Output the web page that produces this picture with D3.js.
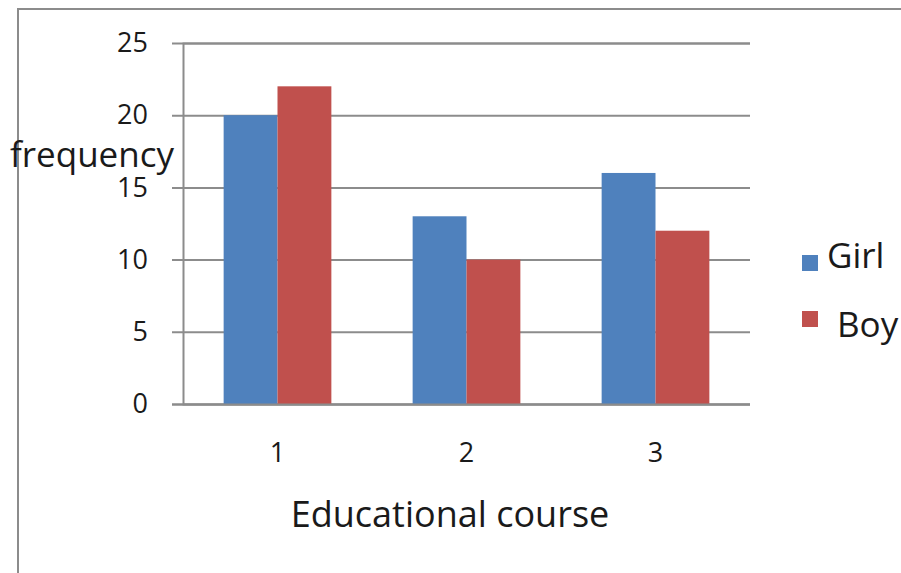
<!DOCTYPE html>
<html>
<head>
<meta charset="utf-8">
<script src="https://cdn.jsdelivr.net/npm/d3@7"></script>
<style>
  body { margin: 0; background: #fff; }
  svg { display: block; }
  svg text { font-family: "Open Sans", Lato, sans-serif; }
</style>
</head>
<body>
<div class="container"></div>
<script>
// Data
const categories = ['1', '2', '3'];
const seriesNames = ['Girl', 'Boy'];
const girlValues = [20, 13, 16];
const boyValues = [22, 10, 12];
const yTicks = [0, 5, 10, 15, 20, 25];
const colors = ['#4f81bd', '#c0504d'];

const width = 901;
const height = 573;
const margin = { left: 183, right: 151, top: 43, bottom: 169 };
const textColor = '#1a1a1a';

const svg = d3
  .select('.container')
  .append('svg')
  .attr('width', width)
  .attr('height', height);

// outer frame
svg
  .append('rect')
  .attr('x', 18)
  .attr('y', 9)
  .attr('width', width + 20)
  .attr('height', height + 20)
  .attr('fill', 'none')
  .attr('stroke', '#8c8c8c')
  .attr('stroke-width', 2);

const x = d3
  .scaleBand()
  .domain(categories)
  .range([margin.left, width - margin.right])
  .paddingInner(0.43)
  .paddingOuter(0.215);

const xInner = d3
  .scaleBand()
  .domain(seriesNames)
  .range([0, x.bandwidth()]);

const y = d3
  .scaleLinear()
  .domain([0, 25])
  .range([height - margin.bottom, margin.top]);

// gridlines + y axis
const yAxis = d3
  .axisLeft(y)
  .tickValues(yTicks)
  .tickSize(-(width - margin.right - margin.left))
  .tickPadding(35)
  .tickFormat(d3.format('d'));

const gy = svg
  .append('g')
  .attr('transform', `translate(${margin.left},0)`)
  .call(yAxis);
gy.select('.domain').attr('stroke', '#8c8c8c').attr('stroke-width', 2);
gy.selectAll('.tick line')
  .attr('x1', -11)
  .attr('stroke', '#8c8c8c')
  .attr('stroke-width', 2);
gy.selectAll('.tick text')
  .attr('fill', textColor)
  .style('font-size', '27px');

// bars
const rows = categories.map((c, i) => ({
  category: c,
  values: [girlValues[i], boyValues[i]],
}));

const group = svg
  .selectAll('.group')
  .data(rows)
  .enter()
  .append('g')
  .attr('class', 'group')
  .attr('transform', (d) => `translate(${x(d.category)},0)`);

group
  .selectAll('rect')
  .data((d) => d.values.map((v, i) => ({ name: seriesNames[i], value: v, i })))
  .enter()
  .append('rect')
  .attr('x', (d) => xInner(d.name))
  .attr('y', (d) => y(d.value))
  .attr('width', xInner.bandwidth())
  .attr('height', (d) => y(0) - y(d.value))
  .attr('fill', (d) => colors[d.i]);

// x axis
const gx = svg
  .append('g')
  .attr('transform', `translate(0,${y(0)})`)
  .call(d3.axisBottom(x).tickSize(0).tickPadding(39));
gx.select('.domain')
  .attr('d', `M${margin.left - 11},0.5H${width - margin.right}`)
  .attr('stroke', '#8c8c8c')
  .attr('stroke-width', 2);
gx.selectAll('.tick text')
  .attr('fill', textColor)
  .style('font-size', '27px');

// axis titles (sits between the 20 and 15 labels, as in the original)
svg
  .append('text')
  .attr('x', 10)
  .attr('y', 167)
  .style('font-size', '35px')
  .attr('fill', textColor)
  .text('frequency');

svg
  .append('text')
  .attr('x', 450)
  .attr('y', 527)
  .attr('text-anchor', 'middle')
  .style('font-size', '36px')
  .attr('fill', textColor)
  .text('Educational course');

// legend
const legend = svg
  .selectAll('.legend')
  .data(seriesNames)
  .enter()
  .append('g')
  .attr('class', 'legend')
  .attr('transform', (d, i) => `translate(802,${255 + i * 56})`);

legend
  .append('rect')
  .attr('width', 16)
  .attr('height', 16)
  .attr('fill', (d, i) => colors[i]);

legend
  .append('text')
  .attr('x', (d, i) => (i === 0 ? 25 : 35))
  .attr('y', (d, i) => (i === 0 ? 13 : 26))
  .style('font-size', '35px')
  .attr('fill', textColor)
  .text((d) => d);
</script>
</body>
</html>
